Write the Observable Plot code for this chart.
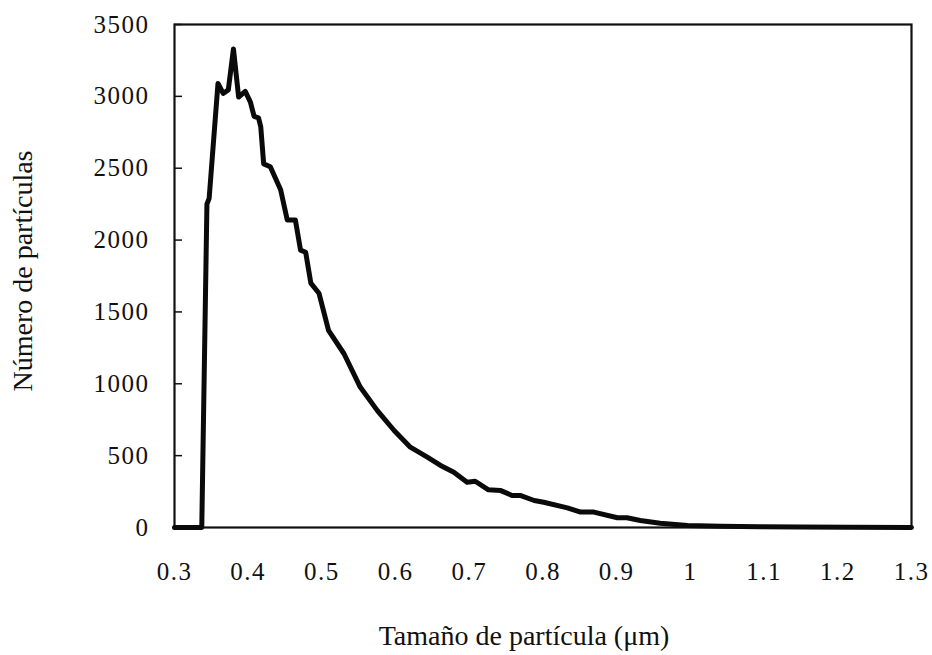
<!DOCTYPE html>
<html>
<head>
<meta charset="utf-8">
<script src="https://cdn.jsdelivr.net/npm/d3@7"></script>
<script src="https://cdn.jsdelivr.net/npm/@observablehq/plot@0.6"></script>
<style>
  html, body { margin: 0; padding: 0; background: #fff; }
  #chart svg { display: block; }
  #chart g[aria-label="y-axis tick label"] text,
  #chart g[aria-label="x-axis tick label"] text { letter-spacing: 1.5px; }
</style>
</head>
<body>
<div id="chart"></div>
<script>
// Particle size (µm)
const sizes = [
  0.300, 0.337, 0.344, 0.347, 0.359, 0.366, 0.373, 0.380, 0.387, 0.396,
  0.403, 0.408, 0.414, 0.417, 0.421, 0.430, 0.444, 0.453, 0.464, 0.471,
  0.478, 0.485, 0.496, 0.509, 0.530, 0.552, 0.575, 0.598, 0.620, 0.643,
  0.661, 0.679, 0.697, 0.708, 0.726, 0.742, 0.758, 0.769, 0.788, 0.801,
  0.833, 0.851, 0.869, 0.901, 0.914, 0.932, 0.959, 0.996, 1.041, 1.095,
  1.149, 1.217, 1.300
];
// Number of particles
const counts = [
  0, 0, 2250, 2290, 3090, 3020, 3045, 3330, 2995, 3035,
  2960, 2860, 2850, 2790, 2530, 2510, 2350, 2140, 2140, 1930,
  1915, 1700, 1630, 1372, 1209, 977, 815, 675, 559, 490,
  432, 385, 315, 322, 262, 258, 223, 223, 188, 176,
  137, 107, 107, 68, 68, 49, 30, 14, 8, 5,
  3, 1, 0
];
const xTicks = [0.3, 0.4, 0.5, 0.6, 0.7, 0.8, 0.9, 1, 1.1, 1.2, 1.3];
const yTicks = [0, 500, 1000, 1500, 2000, 2500, 3000, 3500];
const xTitle = "Tamaño de partícula (μm)";
const yTitle = "Número de partículas";

const data = sizes.map((s, i) => ({size: s, count: counts[i]}));
const serif = "'Liberation Serif', 'Times New Roman', serif";

const chart = Plot.plot({
  width: 932,
  height: 655,
  marginLeft: 174,
  marginRight: 21,
  marginTop: 24,
  marginBottom: 128,
  style: {fontFamily: serif, background: "#fff", color: "#111"},
  x: {domain: [0.3, 1.3]},
  y: {domain: [0, 3500]},
  marks: [
    Plot.axisX({ticks: xTicks, tickFormat: d => String(d), tickSize: 0, tickPadding: 35,
      fontSize: 25, label: null, fill: "#111"}),
    Plot.axisY({ticks: yTicks, tickFormat: d => String(d), tickSize: 0, tickPadding: 25,
      fontSize: 25, label: null, fill: "#111"}),
    Plot.axisY({ticks: yTicks, tickFormat: () => "", tickSize: 8, dx: 8, label: null,
      strokeWidth: 1.5, stroke: "#111"}),
    Plot.frame({stroke: "#111", strokeWidth: 2.2}),
    Plot.line(data, {x: "size", y: "count", stroke: "#0a0a0a", strokeWidth: 5,
      strokeLinejoin: "round", strokeLinecap: "round"}),
    Plot.text([xTitle], {text: d => d, frameAnchor: "bottom", dy: 117, dx: -19,
      lineAnchor: "bottom", textAnchor: "middle", fontSize: 28, fill: "#111"}),
    Plot.text([yTitle], {text: d => d, frameAnchor: "left", dx: -151, dy: -5, rotate: -90,
      lineAnchor: "middle", textAnchor: "middle", fontSize: 28, fill: "#111"})
  ]
});
document.getElementById("chart").appendChild(chart);
</script>
</body>
</html>
